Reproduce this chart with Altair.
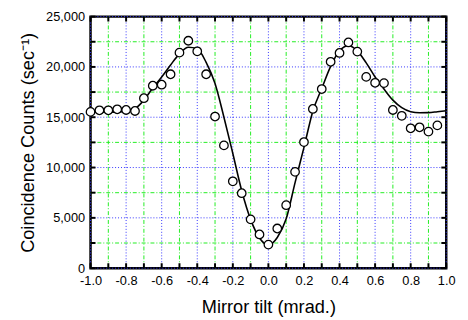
import altair as alt
import pandas as pd

# measured data points
pt_x = [-1.0, -0.95, -0.9, -0.85, -0.8, -0.75, -0.7, -0.65, -0.6, -0.55,
        -0.5, -0.45, -0.4, -0.35, -0.3, -0.25, -0.2, -0.15, -0.1, -0.05,
        0.0, 0.05, 0.1, 0.15, 0.2, 0.25, 0.3, 0.35, 0.4, 0.45,
        0.5, 0.55, 0.6, 0.65, 0.7, 0.75, 0.8, 0.85, 0.9, 0.95]
pt_y = [15530, 15690, 15690, 15790, 15720, 15620, 16890, 18130, 18230, 19270,
        21420, 22600, 21550, 19270, 15070, 12200, 8630, 7450, 4850, 3350,
        2340, 3940, 6260, 9570, 12530, 15820, 17800, 20510, 21390, 22430,
        21520, 19010, 18420, 18390, 15720, 15140, 13900, 14000, 13570, 14190]

# fitted curve
fit_x = [-1.0, -0.95, -0.9, -0.85, -0.8, -0.75, -0.7, -0.65, -0.6, -0.55,
         -0.5, -0.45, -0.4, -0.35, -0.3, -0.25, -0.2, -0.15, -0.1, -0.05,
         0.0, 0.05, 0.1, 0.15, 0.2, 0.25, 0.3, 0.35, 0.4, 0.45,
         0.5, 0.55, 0.6, 0.65, 0.7, 0.75, 0.8, 0.85, 0.9, 0.95, 1.0]
fit_y = [15500, 15500, 15500, 15520, 15600, 15850, 16700, 17900, 19000, 20200,
         21300, 21950, 21800, 20450, 18350, 15000, 11400, 7700, 4850, 3000,
         2300, 3050, 4900, 8500, 12000, 15600, 17850, 20050, 21600, 22100,
         21600, 20400, 19000, 17800, 16700, 15950, 15550, 15450, 15460, 15550, 15650]

x_major = [-1.0, -0.8, -0.6, -0.4, -0.2, 0.0, 0.2, 0.4, 0.6, 0.8, 1.0]
x_minor = [-0.9, -0.7, -0.5, -0.3, -0.1, 0.1, 0.3, 0.5, 0.7, 0.9]
y_major = [0, 5000, 10000, 15000, 20000, 25000]
y_minor = [2500, 7500, 12500, 17500, 22500]

W, H = 362, 256
FONT = "Liberation Sans"

xs = alt.Scale(domain=[-1, 1], nice=False, zero=False)
ys = alt.Scale(domain=[0, 25000], nice=False)

pts = pd.DataFrame({"x": pt_x, "y": pt_y})
fit = pd.DataFrame({"x": fit_x, "y": fit_y})
xmaj = pd.DataFrame({"v": x_major})
xmin = pd.DataFrame({"v": x_minor})
ymaj = pd.DataFrame({"v": y_major})
ymin = pd.DataFrame({"v": y_minor})
xall = pd.DataFrame({"v": x_major + x_minor})
yall = pd.DataFrame({"v": y_major + y_minor})

xaxis = alt.Axis(values=x_major, tickSize=0, grid=False, domain=False,
                 labelOverlap=False, labelFlush=False,
                 labelExpr="replace(format(datum.value, '.1f'), '\u2212', '-')",
                 labelFont=FONT, labelFontSize=13, labelColor="black", labelPadding=7,
                 title="Mirror tilt (mrad.)", titleFont=FONT, titleFontSize=18.5,
                 titleFontWeight="normal", titleColor="black",
                 titleX=W / 2, titleY=45, titleBaseline="alphabetic", titleAlign="center")
yaxis = alt.Axis(values=y_major, tickSize=0, grid=False, domain=False, format=",d",
                 labelOverlap=False, labelFlush=False,
                 labelFont=FONT, labelFontSize=13, labelColor="black", labelPadding=6,
                 title="Coincidence Counts (sec\u207b\u00b9)", titleFont=FONT, titleFontSize=18.5,
                 titleFontWeight="normal", titleColor="black",
                 titleX=-58, titleY=H / 2, titleAngle=-90, titleBaseline="alphabetic",
                 titleAlign="center")

XV = alt.X("v:Q", scale=xs, axis=xaxis, title="Mirror tilt (mrad.)")
YV = alt.Y("v:Q", scale=ys, axis=yaxis, title="Coincidence Counts (sec\u207b\u00b9)")

# grid lines
gx_major = alt.Chart(xmaj).mark_rule(color="#3333ff", strokeWidth=1, strokeDash=[1, 2]).encode(x=XV)
gx_minor = alt.Chart(xmin).mark_rule(color="#22ee22", strokeWidth=1, strokeDash=[4, 2, 1, 2]).encode(x=XV)
gy_major = alt.Chart(ymaj).mark_rule(color="#3333ff", strokeWidth=1, strokeDash=[1, 2]).encode(y=YV)
gy_minor = alt.Chart(ymin).mark_rule(color="#22ee22", strokeWidth=1, strokeDash=[4, 2, 1, 2]).encode(y=YV)

# inward ticks
tk = dict(color="black", strokeWidth=2)
t_bottom = alt.Chart(xall).mark_rule(**tk).encode(x=XV, y=alt.value(H), y2=alt.value(H - 5))
t_top = alt.Chart(xall).mark_rule(**tk).encode(x=XV, y=alt.value(0), y2=alt.value(5))
t_left = alt.Chart(yall).mark_rule(**tk).encode(y=YV, x=alt.value(0), x2=alt.value(5))
t_right = alt.Chart(yall).mark_rule(**tk).encode(y=YV, x=alt.value(W), x2=alt.value(W - 5))

XD = alt.X("x:Q", scale=xs, axis=xaxis, title="Mirror tilt (mrad.)")
YD = alt.Y("y:Q", scale=ys, axis=yaxis, title="Coincidence Counts (sec\u207b\u00b9)")

line = alt.Chart(fit).mark_line(color="black", strokeWidth=1.6, interpolate="monotone").encode(x=XD, y=YD)
points = alt.Chart(pts).mark_point(shape="circle", filled=False, fill="white", fillOpacity=1,
                                   color="black", strokeWidth=1.3, size=75, opacity=1).encode(x=XD, y=YD)

chart = alt.layer(gx_major, gx_minor, gy_major, gy_minor, line, points,
                  t_bottom, t_top, t_left, t_right).properties(
    width=W, height=H,
    autosize=alt.AutoSizeParams(type="none"),
    padding={"left": 84, "top": 6, "right": 14, "bottom": 50},
    background="white",
).configure_view(stroke="black", strokeWidth=2.5)

chart.save("out.html", embed_options={"renderer": "svg", "actions": False})
